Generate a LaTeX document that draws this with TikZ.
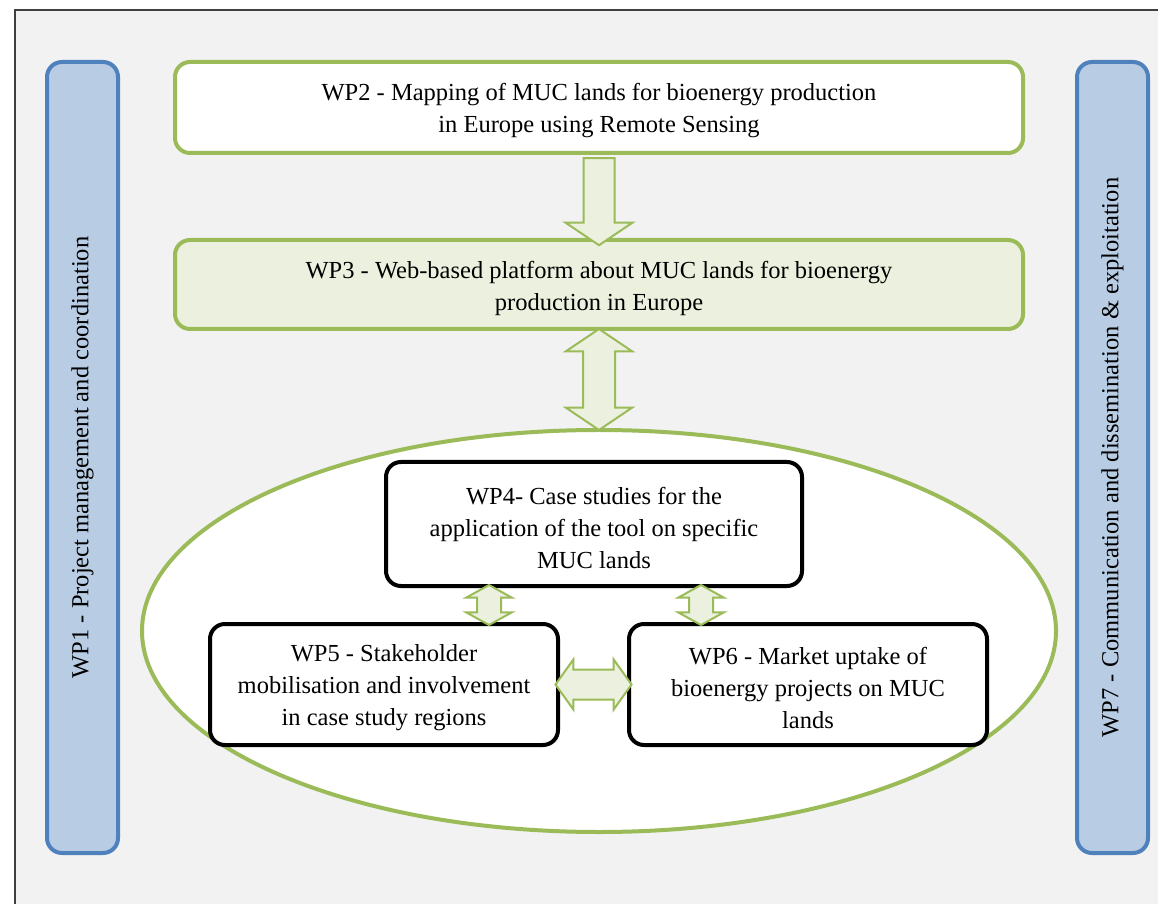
\documentclass[tikz,border=0pt]{standalone}
\usepackage{fontspec}
\setmainfont{Liberation Serif}
\usetikzlibrary{shapes.geometric,shapes.arrows,calc,fit}

\definecolor{wpgreen}{HTML}{9BBB59}
\definecolor{wplight}{HTML}{EBF1DE}
\definecolor{wpblue}{HTML}{4F81BD}
\definecolor{wpbluefill}{HTML}{B8CCE4}
\definecolor{wpback}{HTML}{F2F2F2}
\definecolor{wpframe}{HTML}{404040}

\begin{document}
\begin{tikzpicture}[x=0.4pt,y=-0.4pt,font=\fontsize{9.8}{12.8}\selectfont]
	\tikzset{greenbox/.style={draw=wpgreen,line width=1.6pt,rounded corners=6pt,inner sep=0pt}}
	\tikzset{blackbox/.style={draw=black,line width=1.6pt,rounded corners=6pt,fill=white,inner sep=0pt}}
	\tikzset{sidebar/.style={draw=wpblue,line width=1.6pt,rounded corners=6pt,fill=wpbluefill,inner sep=0pt}}
	\tikzset{boxtext/.style={align=center,inner sep=0pt,yshift=-1.4pt}}
	\tikzset{blockarrow/.style={draw=wpgreen,line width=0.8pt,fill=wplight,inner xsep=0pt}}

	\clip (0,0) rectangle (1158,904);
	\draw[draw=wpframe, line width=0.8pt, fill=wpback] (15,10) rectangle (1180,925);

	% Side bars
	\node[fit={(47,62) (118,853)}, sidebar] (wp1) {};
	\node[rotate=90] (wp1text) at (wp1.center) {WP1 - Project management and coordination};
	\node[fit={(1077,62) (1148,853)}, sidebar] (wp7) {};
	\node[rotate=90] (wp7text) at (wp7.center) {WP7 - Communication and dissemination \& exploitation};

	% Platform
	\node[fit={(175,62) (1023,153)}, greenbox, fill=white] (wp2) {};
	\node[boxtext] (wp2text) at (wp2.center) {WP2 - Mapping of MUC lands for bioenergy production\\in Europe using Remote Sensing};
	\node[fit={(175,240) (1023,329)}, greenbox, fill=wplight] (wp3) {};
	\node[boxtext] (wp3text) at (wp3.center) {WP3 - Web-based platform about MUC lands for bioenergy\\production in Europe};

	% Case studies
	\node[draw=wpgreen, line width=1.6pt, fill=white, ellipse, inner sep=0pt, minimum width=365.6pt, minimum height=160.8pt] (muc) at (599,631) {};

	\node[fit={(386,462) (802,586)}, blackbox] (wp4) {};
	\node[boxtext] (wp4text) at (wp4.center) {WP4- Case studies for the\\application of the tool on specific\\MUC lands};
	\node[fit={(210,624) (558,745)}, blackbox] (wp5) {};
	\node[boxtext] (wp5text) at (wp5.center) {WP5 - Stakeholder\\mobilisation and involvement\\in case study regions};
	\node[fit={(629,624) (987,745)}, blackbox] (wp6) {};
	\node[boxtext] (wp6text) at (wp6.center) {WP6 - Market uptake of\\bioenergy projects on MUC\\lands};

	% Arrows
	\node[blockarrow, single arrow, rotate=-90, minimum height=34.8pt, minimum width=26pt, single arrow head extend=7.2pt, inner ysep=5.8pt, single arrow tip angle=112] (a23) at ($(wp2.south)!0.5!(wp3.north)$) {};
	\node[blockarrow, double arrow, rotate=90, minimum height=40.4pt, minimum width=25.6pt, double arrow head extend=6.8pt, inner ysep=6pt, double arrow tip angle=112] (a3m) at ($(wp3.south)!0.5!(muc.north)$) {};
	\node[blockarrow, double arrow, rotate=90, minimum height=16pt, minimum width=17.6pt, double arrow head extend=4.4pt, inner ysep=4.4pt, double arrow tip angle=122] (a45) at ($(wp5.north)!0.5!(wp4.south)$) {};
	\node[blockarrow, double arrow, rotate=90, minimum height=16pt, minimum width=17.6pt, double arrow head extend=4.4pt, inner ysep=4.4pt, double arrow tip angle=122] (a46) at ($(wp6.north)!0.5!(wp4.south)$) {};
	\node[blockarrow, double arrow, minimum height=30.4pt, minimum width=19.2pt, double arrow head extend=4pt, inner ysep=5.6pt, double arrow tip angle=109] (a56) at ($(wp5.east)!0.5!(wp6.west)$) {};

\end{tikzpicture}
\end{document}
